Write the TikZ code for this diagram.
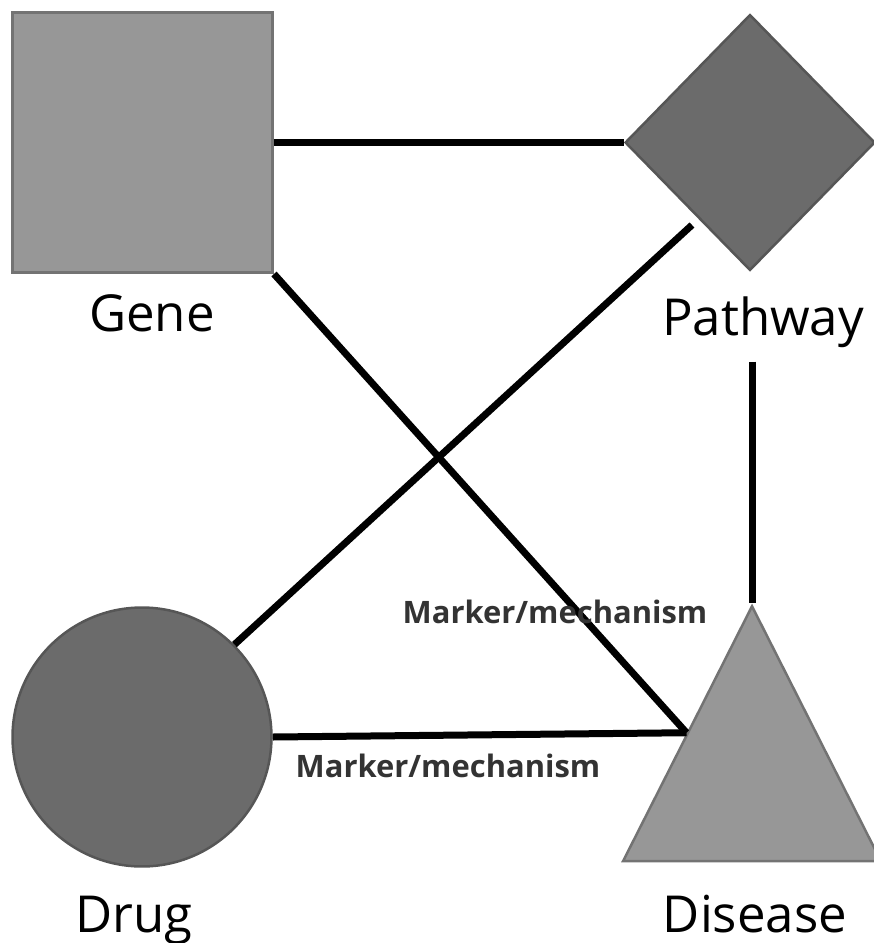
\documentclass[tikz,border=0pt]{standalone}
\usepackage{fontspec}
\setmainfont{Open Sans}
\usepackage{xcolor}
\usetikzlibrary{shapes.geometric}
\definecolor{lightfill}{HTML}{979797}
\definecolor{lightedge}{HTML}{737373}
\definecolor{darkfill}{HTML}{6B6B6B}
\definecolor{darkedge}{HTML}{565656}

\begin{document}
\begin{tikzpicture}[x=0.02cm,y=-0.02cm,
    link/.style={line width=0.14cm,black},
    shapelabel/.style={anchor=base,inner sep=0pt,font=\fontsize{29}{34}\selectfont},
    edgetext/.style={anchor=base,inner sep=0pt,font=\fontsize{17.6}{21}\selectfont\bfseries,text=black!80}]
\useasboundingbox (0,0) rectangle (874,943);
\node[draw=lightedge,fill=lightfill,line width=0.06cm,minimum size=5.2cm,inner sep=0pt] (gene) at (142.5,142.5) {};
\node[diamond,draw=darkedge,fill=darkfill,line width=0.05cm,minimum width=5.0cm,minimum height=5.12cm,inner sep=0pt] (pathway) at (750,142.5) {};
\node[circle,draw=darkedge,fill=darkfill,line width=0.05cm,minimum size=5.18cm,inner sep=0pt] (drug) at (142,737) {};
\node[isosceles triangle,shape border rotate=90,isosceles triangle stretches,minimum width=5.16cm,minimum height=5.1cm,draw=lightedge,fill=lightfill,line width=0.05cm,inner sep=0pt,anchor=apex] (disease) at (752,603) {};
\node[shapelabel] (genename) at (152,331) {Gene};
\node[shapelabel] (pwname) at (763,335) {Pathway};
\node[shapelabel] (drugname) at (134,932) {Drug};
\node[shapelabel] (disname) at (755,932) {Disease};
\coordinate (pwend) at (692,225);
\draw[link] (gene.east) -- (pathway.west);
\draw[link] (gene.south east) -- (disease.left side);
\draw[link] (drug.45) -- (pwend);
\draw[link,shorten <=0.28cm] (pwname.south -| disease.apex) -- (disease.apex);
\draw[link] (drug.east) -- (disease.left side);
\node[edgetext] (mark1) at (555,623) {Marker/mechanism};
\node[edgetext] (mark2) at (448,777) {Marker/mechanism};
\end{tikzpicture}
\end{document}
